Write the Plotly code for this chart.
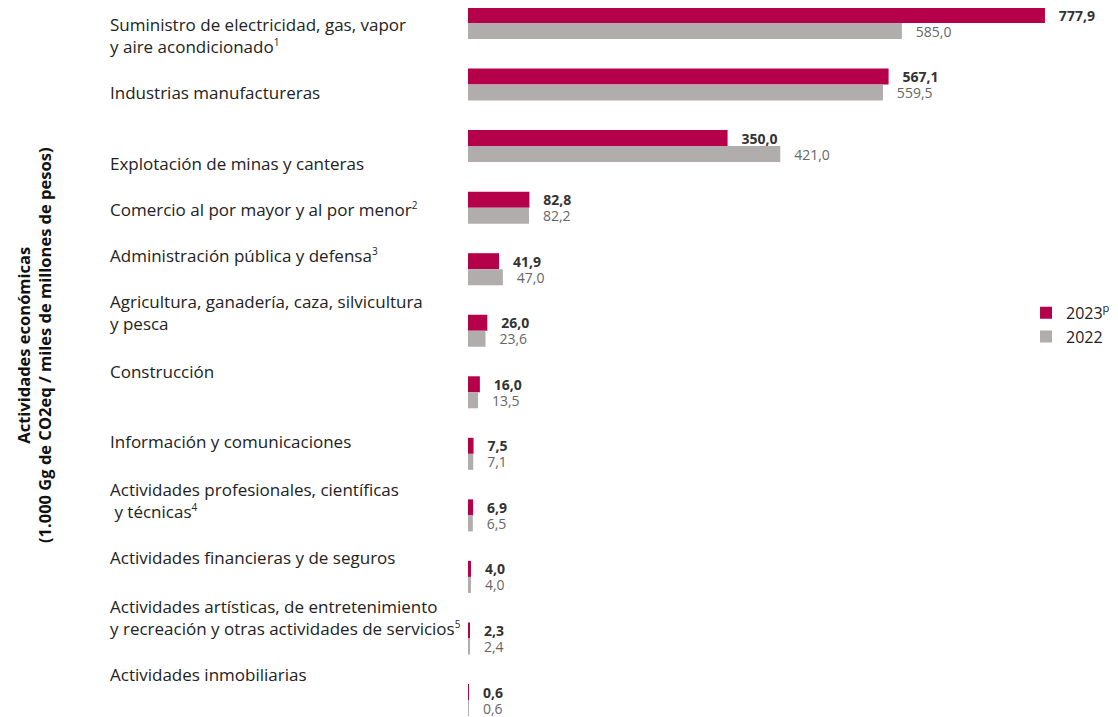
import plotly.graph_objects as go

SUP = "<sup><span style='font-size:10px'>{}</span></sup>"

categories = [
    "Suministro de electricidad, gas, vapor<br>y aire acondicionado" + SUP.format(1),
    "Industrias manufactureras",
    "Explotación de minas y canteras",
    "Comercio al por mayor y al por menor" + SUP.format(2),
    "Administración pública y defensa" + SUP.format(3),
    "Agricultura, ganadería, caza, silvicultura<br>y pesca",
    "Construcción",
    "Información y comunicaciones",
    "Actividades profesionales, científicas<br> y técnicas" + SUP.format(4),
    "Actividades financieras y de seguros",
    "Actividades artísticas, de entretenimiento<br>y recreación y otras actividades de servicios" + SUP.format(5),
    "Actividades inmobiliarias",
]
values_2023 = [777.9, 567.1, 350.0, 82.8, 41.9, 26.0, 16.0, 7.5, 6.9, 4.0, 2.3, 0.6]
values_2022 = [585.0, 559.5, 421.0, 82.2, 47.0, 23.6, 13.5, 7.1, 6.5, 4.0, 2.4, 0.6]
series_names = ["2023<sup>p</sup>", "2022"]

# label vertical offsets (in category units) relative to bar group centre
label_offsets = [0.21, 0.13, 0.28, 0.03, -0.23, -0.29, -0.34, -0.2, -0.24, -0.31, -0.34, -0.41]

idx = list(range(len(categories)))
CRIMSON = "#B5004A"
GRAY = "#B0ADAC"
FONT = "Open Sans"
PAD = "\u00a0\u00a0\u00a0"

fig = go.Figure()
fig.add_trace(go.Bar(
    y=idx, x=values_2023, orientation="h", name=series_names[0],
    marker=dict(color=CRIMSON, line=dict(width=0)),
    texttemplate=PAD + "<b>%{x:.1f}</b>", textposition="outside",
    textfont=dict(family=FONT, size=14, color="#333333"),
    constraintext="none", cliponaxis=False,
))
fig.add_trace(go.Bar(
    y=idx, x=values_2022, orientation="h", name=series_names[1],
    marker=dict(color=GRAY, line=dict(width=0)),
    texttemplate=PAD + "%{x:.1f}", textposition="outside",
    textfont=dict(family=FONT, size=14, color="#666666"),
    constraintext="none", cliponaxis=False,
))

annotations = []
for i, (c, off) in enumerate(zip(categories, label_offsets)):
    annotations.append(dict(
        x=-0.5538, xref="paper", y=i + off, yref="y",
        text=c, showarrow=False, xanchor="left", yanchor="middle", align="left",
        font=dict(family=FONT, size=17, color="#222222"),
    ))
annotations.append(dict(
    x=-0.6677, xref="paper", y=0.5247, yref="paper",
    text="<b>Actividades económicas<br>(1.000 Gg de CO2eq / miles de millones de pesos)</b>",
    textangle=-90, showarrow=False, xanchor="center", yanchor="middle",
    font=dict(family=FONT, size=16.5, color="#111111"),
))

fig.update_layout(
    width=1110, height=709,
    margin=dict(l=460, r=0, t=0, b=0, autoexpand=False),
    paper_bgcolor="white", plot_bgcolor="white",
    barmode="group", bargap=0.48, bargroupgap=0,
    separators=",.",
    showlegend=True,
    legend=dict(x=0.8585, y=0.594, xanchor="left", yanchor="top",
                font=dict(family=FONT, size=16, color="#222222"),
                bgcolor="rgba(0,0,0,0)", itemwidth=30),
    xaxis=dict(range=[0, 876.4], visible=False),
    yaxis=dict(range=[11.276, -0.244], visible=False),
    annotations=annotations,
)

fig.write_html("out.html")
